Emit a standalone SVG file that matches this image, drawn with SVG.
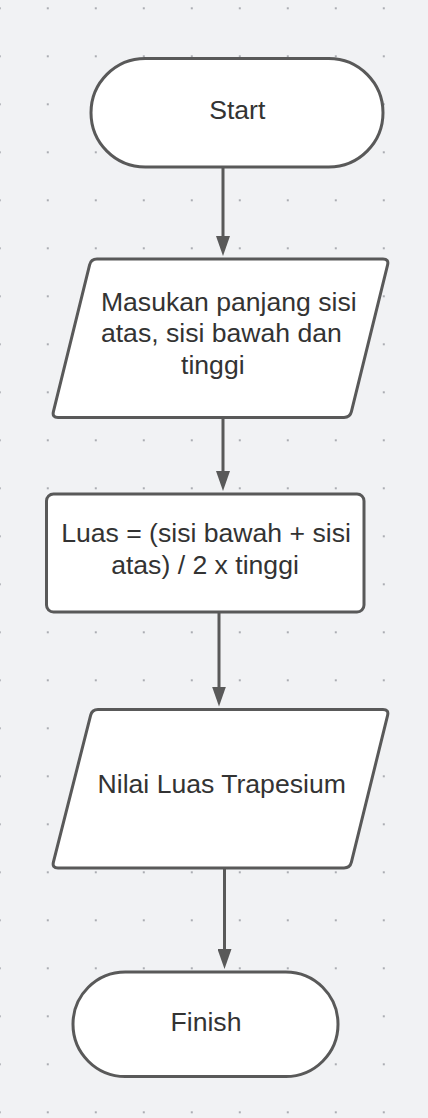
<svg xmlns="http://www.w3.org/2000/svg" width="428" height="1118" viewBox="0 0 428 1118">
  <defs>
    <pattern id="dots" x="23.8" y="-15.7" width="48" height="48" patternUnits="userSpaceOnUse">
      <circle cx="24" cy="24" r="1.1" fill="#9a9ca3"/>
    </pattern>
    <marker id="arrow" viewBox="0 0 20 14" refX="2" refY="7" markerWidth="20" markerHeight="14" markerUnits="userSpaceOnUse" orient="auto">
      <path d="M0,0 L20,7 L0,14 Z" fill="#595959"/>
    </marker>
    <style>
      .shape { fill: #ffffff; stroke: #595959; stroke-width: 3; stroke-linejoin: round; }
      .conn { fill: none; stroke: #595959; stroke-width: 3; }
      .label { font-family: "Liberation Sans", Arial, sans-serif; font-size: 26.6px; fill: #333333; text-anchor: middle; }
    </style>
  </defs>
  <rect x="0" y="0" width="428" height="1118" fill="#f1f2f4"/>
  <rect x="0" y="0" width="428" height="1118" fill="url(#dots)"/>

  <g id="connectors">
    <path class="conn" d="M223,167 L223,238" marker-end="url(#arrow)"/>
    <path class="conn" d="M223,417.5 L223,473" marker-end="url(#arrow)"/>
    <path class="conn" d="M219,612.5 L219,688.5" marker-end="url(#arrow)"/>
    <path class="conn" d="M224.5,868 L224.5,951" marker-end="url(#arrow)"/>
  </g>

  <g id="start">
    <rect class="shape" x="91" y="58.5" width="292" height="108.5" rx="54.25"/>
    <text class="label" x="237.3" y="119.3">Start</text>
  </g>

  <g id="input">
    <path class="shape" d="M97,259 L383,259 Q389,259 387.6,264.8 L351.4,411.7 Q350,417.5 344,417.5 L58,417.5 Q52,417.5 53.4,411.7 L89.6,264.8 Q91,259 97,259 Z"/>
    <text class="label" x="228.8" y="310.7">Masukan panjang sisi</text>
    <text class="label" x="221.4" y="342">atas, sisi bawah dan</text>
    <text class="label" x="212.8" y="374.3">tinggi</text>
  </g>

  <g id="process">
    <rect class="shape" x="46.5" y="494" width="317.5" height="118" rx="7"/>
    <text class="label" x="206" y="542.3">Luas = (sisi bawah + sisi</text>
    <text class="label" x="205" y="574.3">atas) / 2 x tinggi</text>
  </g>

  <g id="output">
    <path class="shape" d="M98,709.5 L383,709.5 Q389,709.5 387.6,715.3 L351.4,862.2 Q350,868 344,868 L58,868 Q52,868 53.4,862.2 L90.6,715.3 Q92,709.5 98,709.5 Z"/>
    <text class="label" x="221.7" y="793.3">Nilai Luas Trapesium</text>
  </g>

  <g id="finish">
    <rect class="shape" x="73" y="972" width="265" height="104.5" rx="52.25"/>
    <text class="label" x="206" y="1031">Finish</text>
  </g>
</svg>
